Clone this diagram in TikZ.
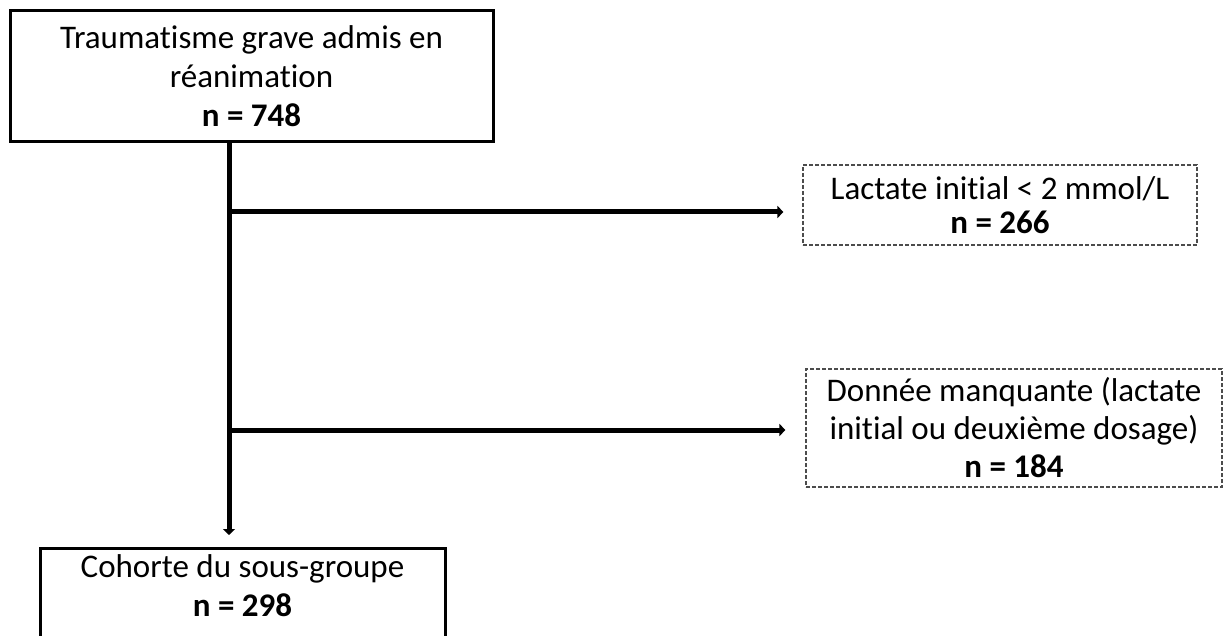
\documentclass[tikz,border=0pt]{standalone}
\usepackage{fontspec}
\setmainfont{Carlito}[Ligatures=NoCommon]
\usetikzlibrary{arrows.meta}

\tikzset{
  flowbox/.style={draw=black,line width=1.5pt,align=center,inner sep=0pt,
    font=\fontsize{16.5}{19.5}\selectfont},
  sidebox/.style={draw=black!70,line width=0.6pt,dash pattern=on 2pt off 1pt,
    align=center,inner sep=0pt,font=\fontsize{16.5}{19}\selectfont},
  flowarrow/.style={line width=2.5pt,-{Triangle[length=3pt,width=6pt]}}
}

\begin{document}
\begin{tikzpicture}[x=0.5pt,y=-0.5pt]
   \clip (0,0) rectangle (1230,636);
   % boxes
   \node[flowbox,minimum width=241.5pt,minimum height=65.5pt] (trauma) at (251.5,76)
     {Traumatisme grave admis en\\ réanimation\\ \textbf{n = 748}};
   \node[sidebox,minimum width=197pt,minimum height=40pt,font=\fontsize{16.5}{17}\selectfont] (lowlact) at (1000,205)
     {Lactate initial < 2 mmol/L\\ \textbf{n = 266}};
   \node[sidebox,minimum width=208pt,minimum height=59pt] (missing) at (1014,428)
     {Donnée manquante (lactate\\ initial ou deuxième dosage)\\ \textbf{n = 184}};
   \node[flowbox,minimum width=202.5pt,anchor=north,inner ysep=3pt,text depth=40pt] (cohort) at (242.5,547)
     {Cohorte du sous-groupe\\ \textbf{n = 298}};
   % connectors
   \coordinate (branch1) at (229,212);
   \coordinate (branch2) at (229,430);
   \draw[flowarrow,shorten >=6pt] (trauma.south -| branch1) -- (cohort.north -| branch1);
   \draw[flowarrow,shorten >=9.5pt] (branch1) -- (branch1 -| lowlact.west);
   \draw[flowarrow,shorten >=10pt] (branch2) -- (branch2 -| missing.west);
\end{tikzpicture}
\end{document}
